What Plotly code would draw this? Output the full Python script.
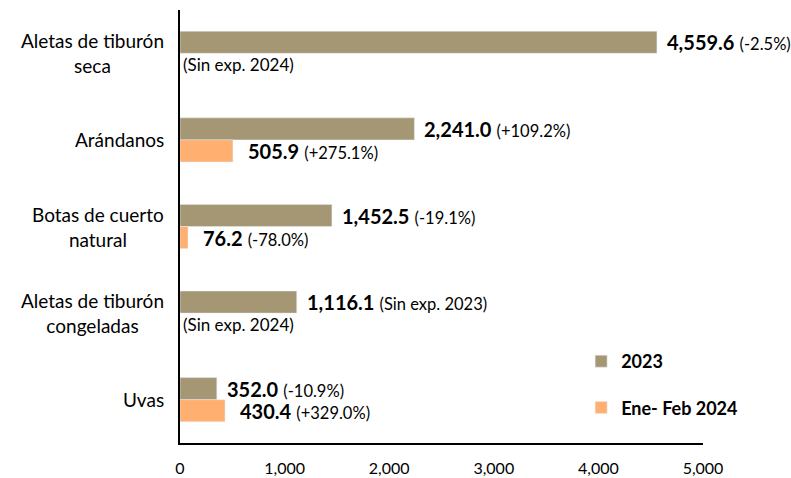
import plotly.graph_objects as go

categorias = ["Aletas de tiburón<br>seca", "Arándanos", "Botas de cuerto<br>natural",
              "Aletas de tiburón<br>congeladas", "Uvas"]
valores_2023 = [4559.6, 2241.0, 1452.5, 1116.1, 352.0]
var_2023 = ["(-2.5%)", "(+109.2%)", "(-19.1%)", "(Sin exp. 2023)", "(-10.9%)"]
valores_2024 = [None, 505.9, 76.2, None, 430.4]
var_2024 = ["(Sin exp. 2024)", "(+275.1%)", "(-78.0%)", "(Sin exp. 2024)", "(+329.0%)"]

COL_23 = "#A59774"
COL_24 = "#FFAF6F"
FONT = "Lato"


def etiqueta(v, p):
    return f"<b>{v:,.1f}</b> <span style='font-size:16.5px'>{p}</span>"


fig = go.Figure()
fig.add_trace(go.Bar(y=categorias, x=valores_2023, name="<b>2023</b>", orientation="h",
                     marker_color=COL_23, legendgroup="a"))
fig.add_trace(go.Bar(y=categorias, x=valores_2024, name="<b>Ene- Feb 2024</b>", orientation="h",
                     marker_color=COL_24, legendgroup="b"))

# etiquetas de valores
for c, v, p in zip(categorias, valores_2023, var_2023):
    fig.add_annotation(x=v, y=c, text=etiqueta(v, p), showarrow=False, xanchor="left",
                       xshift=9, yshift=11, borderpad=0,
                       font=dict(family=FONT, size=20, color="black"))
for c, v, p in zip(categorias, valores_2024, var_2024):
    if v is None:
        fig.add_annotation(x=0, y=c, text=p, showarrow=False, xanchor="left",
                           xshift=1, yshift=-11, font=dict(family=FONT, size=17, color="black"))
    else:
        fig.add_annotation(x=v, y=c, text=etiqueta(v, p), showarrow=False, xanchor="left",
                           xshift=13, yshift=-11, font=dict(family=FONT, size=20, color="black"))

# etiquetas de categoría centradas
for c in categorias:
    fig.add_annotation(x=0, xref="paper", y=c, yref="y", text=c, showarrow=False,
                       xanchor="right", align="center", xshift=-14,
                       font=dict(family=FONT, size=19, color="black"))

fig.update_layout(
    width=791, height=478,
    margin=dict(l=180, r=88, t=10, b=35, autoexpand=False),
    paper_bgcolor="white", plot_bgcolor="white",
    barmode="group", bargap=0.49, bargroupgap=0,
    font=dict(family=FONT, color="black"),
    legend=dict(x=0.767, y=0.231, xanchor="left", yanchor="top",
                font=dict(family=FONT, size=18, color="black"),
                traceorder="grouped", tracegroupgap=20, itemwidth=30),
)
fig.update_xaxes(range=[0, 5000], dtick=1000, tickformat=",", showgrid=False,
                 showline=True, linecolor="black", linewidth=1.5, ticks="",
                 ticklabelstandoff=10,
                 tickfont=dict(family=FONT, size=16, color="black"), zeroline=False)
fig.update_yaxes(autorange="reversed", showticklabels=False, showgrid=False,
                 showline=True, linecolor="black", linewidth=1.5, ticks="")

# sin margen del body para que la figura ocupe la ventana completa
fig.write_html("out.html", config={"displayModeBar": False},
               post_script="document.body.style.margin='0';")
